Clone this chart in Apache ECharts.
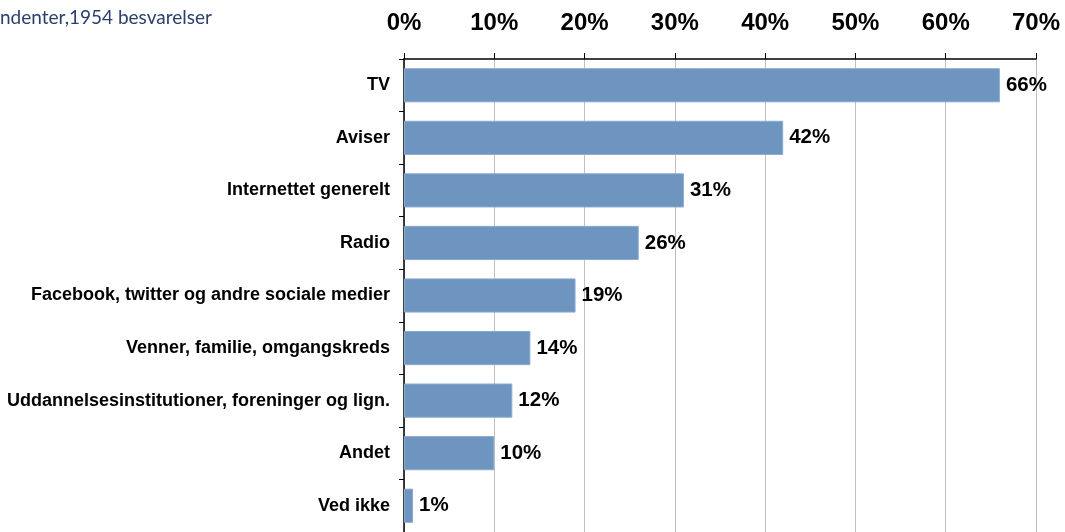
<!DOCTYPE html>
<html>
<head>
<meta charset="utf-8">
<script src="https://cdn.jsdelivr.net/npm/echarts@6/dist/echarts.min.js"></script>
<style>
  html, body { margin: 0; padding: 0; background: #fff; }
  #chart { width: 1065px; height: 532px; }
</style>
</head>
<body>
<div id="chart"></div>
<script>
  // categories, top to bottom
  const categories = [
    'TV',
    'Aviser',
    'Internettet generelt',
    'Radio',
    'Facebook, twitter og andre sociale medier',
    'Venner, familie, omgangskreds',
    'Uddannelsesinstitutioner, foreninger og lign.',
    'Andet',
    'Ved ikke'
  ];
  const shares = [66, 42, 31, 26, 19, 14, 12, 10, 1]; // percent
  const subtitle = 'ndenter,1954 besvarelser';

  const chart = echarts.init(document.getElementById('chart'));

  const option = {
    animation: false,
    title: {
      text: subtitle,
      left: 0,
      top: 8,
      padding: 0,
      textStyle: {
        fontFamily: 'Lato, sans-serif',
        fontWeight: 'normal',
        fontSize: 19,
        color: '#2b3f6c'
      }
    },
    grid: {
      left: 404,
      right: 29,
      top: 59,
      bottom: -1,
      containLabel: false
    },
    xAxis: {
      type: 'value',
      position: 'top',
      min: 0,
      max: 70,
      interval: 10,
      axisLine: { show: true, lineStyle: { color: '#000', width: 1.5 } },
      axisTick: { show: true, length: 6, lineStyle: { color: '#000' } },
      axisLabel: {
        formatter: '{value}%',
        fontFamily: 'Liberation Sans, Arial, sans-serif',
        fontWeight: 'bold',
        fontSize: 24,
        color: '#000',
        margin: 24
      },
      splitLine: { show: true, lineStyle: { color: '#c0c0c0', width: 1 } }
    },
    yAxis: {
      type: 'category',
      data: categories,
      inverse: true,
      axisLine: { show: true, lineStyle: { color: '#000', width: 1.5 } },
      axisTick: { show: true, length: 5, alignWithLabel: false, lineStyle: { color: '#000' } },
      axisLabel: {
        fontFamily: 'Liberation Sans, Arial, sans-serif',
        fontWeight: 'bold',
        fontSize: 18,
        color: '#000',
        margin: 14
      }
    },
    series: [
      {
        type: 'bar',
        data: shares,
        barCategoryGap: '35%',
        itemStyle: { color: '#6d95c0', borderColor: '#8aaad0', borderWidth: 1 },
        label: {
          show: true,
          position: 'right',
          distance: 6,
          formatter: '{c}%',
          fontFamily: 'Liberation Sans, Arial, sans-serif',
          fontWeight: 'bold',
          fontSize: 20.5,
          color: '#000'
        }
      }
    ]
  };

  chart.setOption(option);
</script>
</body>
</html>
